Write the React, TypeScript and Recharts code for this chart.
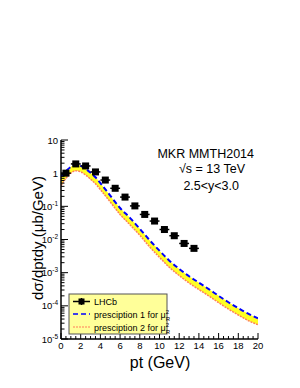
import { ComposedChart, Line, Area, Scatter, XAxis, YAxis, ErrorBar } from 'recharts'

// model curves (two scale prescriptions), pt in GeV, dsigma/dptdy in ub/GeV
const CURVE_PT = [0, 0.5, 1, 1.5, 2, 2.5, 3, 3.5, 4, 5, 6, 7, 8, 9, 10, 11, 12, 13, 14, 15, 16, 17, 18, 19, 20]
const PRESC1 = [
  0.8, 1.15, 1.55, 1.85, 1.65, 1.35, 1.03, 0.75, 0.5, 0.21, 0.089, 0.045, 0.021, 0.0095,
  0.0046, 0.0023, 0.0013, 0.00078, 0.0005, 0.00032, 0.0002, 0.000128, 0.000085, 0.000058, 0.000042,
]
const PRESC2 = [
  0.42, 0.7, 1.0, 1.18, 1.1, 0.88, 0.66, 0.48, 0.32, 0.135, 0.057, 0.028, 0.0134, 0.006,
  0.0029, 0.00145, 0.00082, 0.00049, 0.00031, 0.0002, 0.000125, 0.00008, 0.000053, 0.000036, 0.000027,
]

// LHCb data points
const LHCB_PT = [0.5, 1.5, 2.5, 3.5, 4.5, 5.5, 6.5, 7.5, 8.5, 9.5, 10.5, 11.5, 12.5, 13.5]
const LHCB_XS = [1.0, 1.9, 1.65, 1.09, 0.62, 0.35, 0.19, 0.103, 0.057, 0.036, 0.02, 0.013, 0.0076, 0.0054]
const LHCB_PT_ERR = [0.5, 0.5, 0.5, 0.5, 0.5, 0.5, 0.5, 0.5, 0.5, 0.5, 0.5, 0.5, 0.5, 0.5]

const Y_DECADES = [-5, -4, -3, -2, -1, 0, 1]
const X_MAJOR = [0, 2, 4, 6, 8, 10, 12, 14, 16, 18, 20]

const FONT = '"Liberation Sans", Arial, Helvetica, sans-serif'

const curveRows = CURVE_PT.map((pt, i) => ({
  pt,
  p1: PRESC1[i],
  p2: PRESC2[i],
  band: [PRESC2[i], PRESC1[i]],
}))
const lhcbRows = LHCB_PT.map((pt, i) => ({ pt, xs: LHCB_XS[i], xerr: LHCB_PT_ERR[i] }))

// log axis ticks: 1..9 x 10^k, only powers of ten get a label
const yTicks: number[] = []
Y_DECADES.forEach((e) => {
  for (let m = 1; m <= 9; m++) {
    if (e === 1 && m > 1) break
    yTicks.push(m * Math.pow(10, e))
  }
})
const xTicks: number[] = []
for (let v = 0; v <= 20; v += 0.5) xTicks.push(v)

const isDecade = (v: number) => {
  const e = Math.round(Math.log10(v))
  return Math.abs(v / Math.pow(10, e) - 1) < 1e-6
}

function LeftTick({ x, y, payload }: any) {
  const v = payload.value
  const e = Math.round(Math.log10(v))
  const major = isDecade(v)
  return (
    <g>
      <line x1={x} x2={x + (major ? 7 : 3.5)} y1={y} y2={y} stroke="#000" />
      {major && (
        <text x={x - 3} y={y + 3.5} textAnchor="end" fontSize={9.5} fontFamily={FONT} fill="#000">
          {e === 0 ? '1' : e === 1 ? '10' : (
            <>10<tspan dy={-4} fontSize={6.5}>{e}</tspan></>
          )}
        </text>
      )}
    </g>
  )
}

function RightTick({ x, y, payload }: any) {
  const major = isDecade(payload.value)
  return <line x1={x} x2={x - (major ? 7 : 3.5)} y1={y} y2={y} stroke="#000" />
}

function BottomTick({ x, y, payload }: any) {
  const v = payload.value
  const major = X_MAJOR.includes(v)
  return (
    <g>
      <line x1={x} x2={x} y1={y} y2={y - (major ? 6 : 3)} stroke="#000" />
      {major && (
        <text x={x} y={y + 10} textAnchor="middle" fontSize={9.5} fontFamily={FONT} fill="#000">{v}</text>
      )}
    </g>
  )
}

function TopTick({ x, y, payload }: any) {
  const major = X_MAJOR.includes(payload.value)
  return <line x1={x} x2={x} y1={y} y2={y + (major ? 6 : 3)} stroke="#000" />
}

function MuR() {
  return (
    <>
      <tspan>μ</tspan>
      <tspan dy={-3.5} fontSize={6}>2</tspan>
      <tspan dx={-3.3} dy={6.5} fontSize={6}>R</tspan>
    </>
  )
}

export default function App() {
  return (
    <div style={{ position: 'absolute', left: 0, top: 0, width: 300, height: 388, background: '#fff', fontFamily: FONT }}>
      <ComposedChart
        width={300}
        height={388}
        data={curveRows}
        margin={{ top: 140, right: 42, bottom: 19, left: 21 }}
      >
        <XAxis
          dataKey="pt" type="number" domain={[0, 20]} allowDataOverflow
          ticks={xTicks} interval={0} tickSize={0} tickMargin={0} tickLine={false}
          tick={<BottomTick />} height={30}
          axisLine={{ stroke: '#000', strokeWidth: 1.5 }}
        />
        <XAxis
          xAxisId="top" orientation="top" dataKey="pt" type="number" domain={[0, 20]} allowDataOverflow
          ticks={xTicks} interval={0} tickSize={0} tickMargin={0} tickLine={false}
          tick={<TopTick />} height={0}
          axisLine={{ stroke: '#000', strokeWidth: 1.5 }}
        />
        <YAxis
          scale="log" type="number" domain={[1e-5, 10]} allowDataOverflow
          ticks={yTicks} interval={0} tickSize={0} tickMargin={0} tickLine={false}
          tick={<LeftTick />} width={40}
          axisLine={{ stroke: '#000', strokeWidth: 1.5 }}
        />
        <YAxis
          yAxisId="r" orientation="right" scale="log" type="number" domain={[1e-5, 10]} allowDataOverflow
          ticks={yTicks} interval={0} tickSize={0} tickMargin={0} tickLine={false}
          tick={<RightTick />} width={0}
          axisLine={{ stroke: '#000', strokeWidth: 1.5 }}
        />
        <Area
          dataKey="band" type="monotone" stroke="none" fill="#ffff22" fillOpacity={1}
          isAnimationActive={false}
        />
        <Line
          dataKey="p2" type="monotone" stroke="#ff7f5a" strokeWidth={1.5} strokeDasharray="2 1"
          dot={false} isAnimationActive={false}
        />
        <Line
          dataKey="p1" type="monotone" stroke="#0000ff" strokeWidth={2} strokeDasharray="5 3"
          dot={false} isAnimationActive={false}
        />
        <Scatter
          data={lhcbRows} dataKey="xs" isAnimationActive={false}
          shape={(p: any) => <rect x={p.cx - 3.5} y={p.cy - 3.5} width={7} height={7} fill="#000" />}
        >
          <ErrorBar dataKey="xerr" direction="x" width={0} stroke="#000" strokeWidth={1.5} />
        </Scatter>
      </ComposedChart>

      <svg width={300} height={388} style={{ position: 'absolute', left: 0, top: 0, pointerEvents: 'none' }}>
        <g fontFamily={FONT} fill="#000">
          <text x={254} y={158} textAnchor="end" fontSize={12.5}>MKR MMTH2014</text>
          <text x={245} y={173} textAnchor="end" fontSize={12.5}>√s = 13 TeV</text>
          <text x={239} y={190} textAnchor="end" fontSize={12.5}>2.5&lt;y&lt;3.0</text>
          <text x={160} y={368} textAnchor="middle" fontSize={16}>pt (GeV)</text>
          <text x={43} y={238} textAnchor="middle" fontSize={15} transform="rotate(-90 43 238)">
            dσ/dptdy (μb/GeV)
          </text>
        </g>

        <rect x={69} y={294} width={98} height={40} fill="#ffff99" stroke="#555" strokeWidth={1} />
        <g fontFamily={FONT} fontSize={9} fill="#000">
          <line x1={73} x2={90} y1={301.5} y2={301.5} stroke="#000" strokeWidth={1.5} />
          <line x1={81.5} x2={81.5} y1={298} y2={305} stroke="#000" strokeWidth={1.5} />
          <rect x={78.5} y={298.5} width={6} height={6} fill="#000" />
          <text x={94} y={305}>LHCb</text>
          <line x1={73} x2={90} y1={314} y2={314} stroke="#0000ff" strokeWidth={1.5} strokeDasharray="5 3" />
          <text x={94} y={317.5}>presciption 1 for <MuR /></text>
          <line x1={73} x2={90} y1={327} y2={327} stroke="#ff7f5a" strokeWidth={1.2} strokeDasharray="2 1" />
          <text x={94} y={330.5}>presciption 2 for <MuR /></text>
        </g>
      </svg>
    </div>
  )
}
